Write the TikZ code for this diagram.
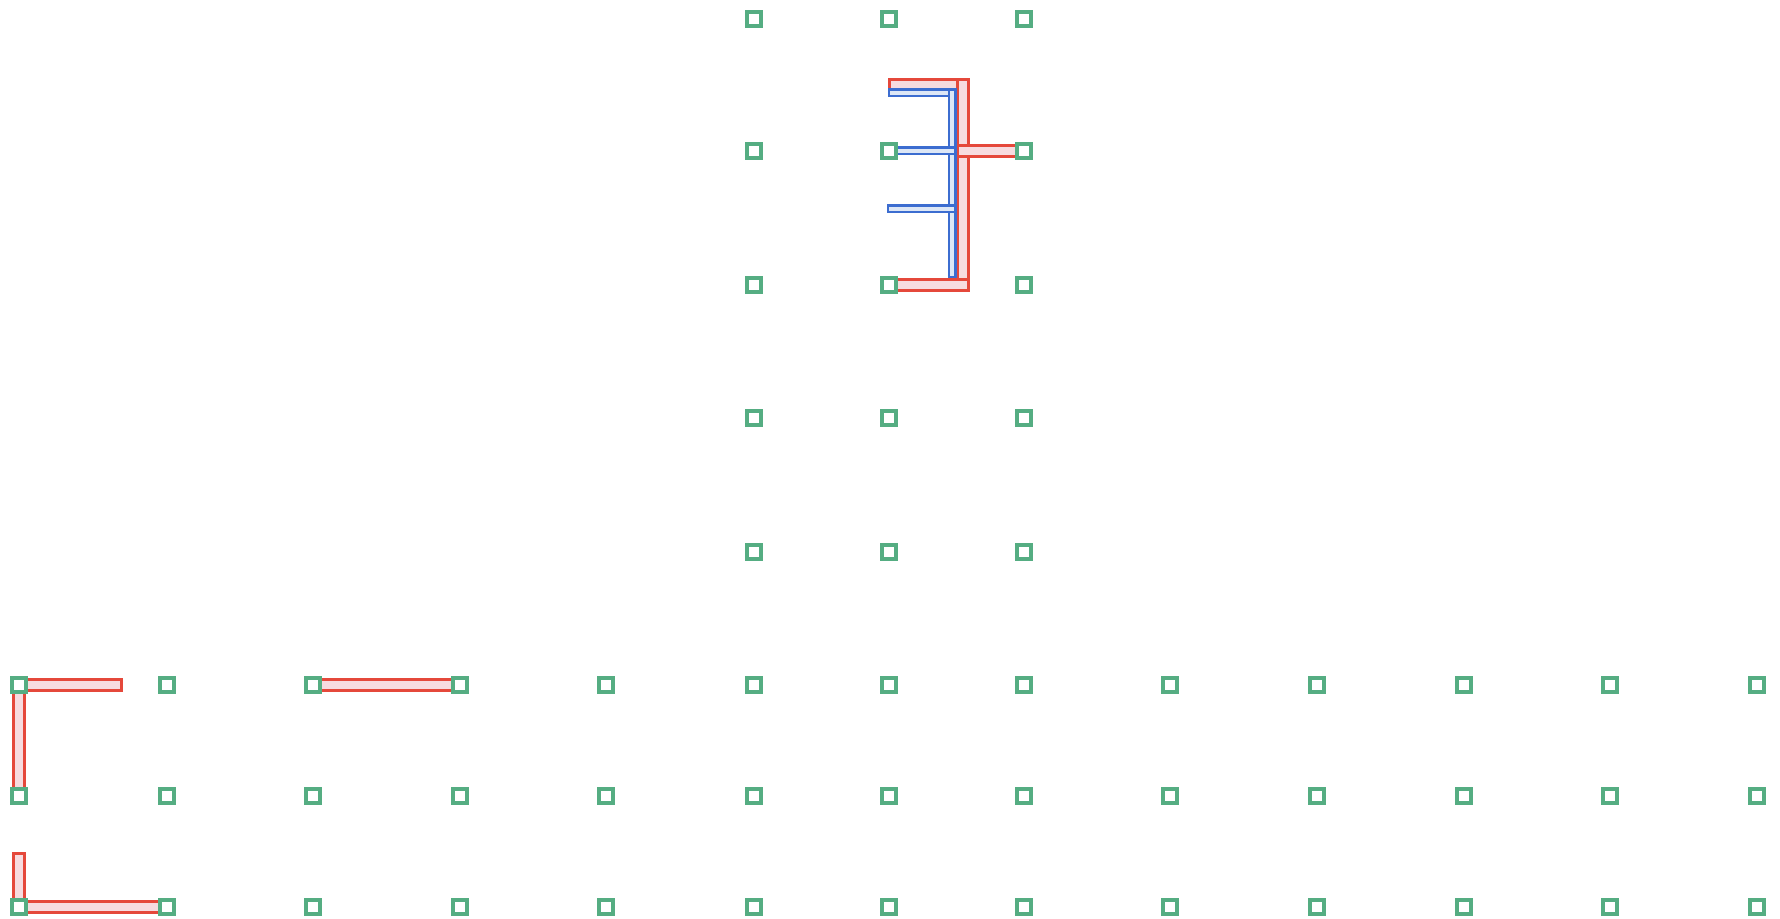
\documentclass[tikz,border=0pt]{standalone}
\usepackage{xcolor}
\usepackage{tikz}
\usetikzlibrary{calc,positioning}
\definecolor{pinx}{HTML}{55AD82}
\definecolor{redx}{HTML}{E5483B}
\definecolor{pinkx}{HTML}{F7DBDF}
\definecolor{bluex}{HTML}{3C6DD0}
\definecolor{palex}{HTML}{DDE7F6}
\tikzset{
  pin/.style={draw=pinx,line width=1.6pt,fill=white,rectangle,minimum size=7pt,inner sep=0pt},
  rbar/.style={draw=redx,line width=1.6pt,double=pinkx,double distance=3.8pt,line cap=rect},
  bbar/.style={draw=bluex,line width=1.1pt,double=palex,double distance=2.3pt,line cap=rect}
}
\begin{document}
\begin{tikzpicture}[x=0.5pt,y=-0.5pt]
\useasboundingbox[fill=white] (0,0) rectangle (1780,919);
% pin grid: three long rows, one tall block of three columns
\foreach \x [count=\c] in {19,167,313,460,606,754,889,1024,1170,1317,1464,1610,1757}{
  \foreach \y [count=\r from 6] in {685,796,907}{\coordinate (p\c-\r) at (\x,\y);}}
\foreach \x [count=\c from 6] in {754,889,1024}{
  \foreach \y [count=\r] in {19,151,285,418,552}{\coordinate (p\c-\r) at (\x,\y);}}
% free ends
\coordinate (la) at (116,685);
\coordinate (lb) at (19,859);
\coordinate (rl) at (895,85);
\coordinate (rt) at (963,85);
\coordinate (rb) at (963,285);
\coordinate (rs) at (963,151);
\coordinate (bt) at (952,93);
\coordinate (bb) at (952,274);
\coordinate (bl) at (892,93);
\coordinate (bm) at (952,151);
\coordinate (cl) at (891,209);
\coordinate (cm) at (952,209);
% red bars
\draw[rbar] (p1-6) -- (la);
\draw[rbar] (p1-6) -- (p1-7);
\draw[rbar] (lb) -- (p1-8);
\draw[rbar] (p1-8) -- (p2-8);
\draw[rbar] (p3-6) -- (p4-6);
\draw[rbar] (rl) -- (rt);
\draw[rbar] (rt) -- (rb);
\draw[rbar] (p7-3) -- (rb);
\draw[rbar] (rs) -- (p8-2);
% blue bars
\draw[bbar] (bl) -- (bt);
\draw[bbar] (bt) -- (bb);
\draw[bbar] (p7-2) -- (bm);
\draw[bbar] (cl) -- (cm);
% pins on top
\foreach \c in {1,...,13}{\foreach \r in {6,7,8}{\node[pin] (n\c-\r) at (p\c-\r) {};}}
\foreach \c in {6,7,8}{\foreach \r in {1,...,5}{\node[pin] (n\c-\r) at (p\c-\r) {};}}
\end{tikzpicture}
\end{document}
